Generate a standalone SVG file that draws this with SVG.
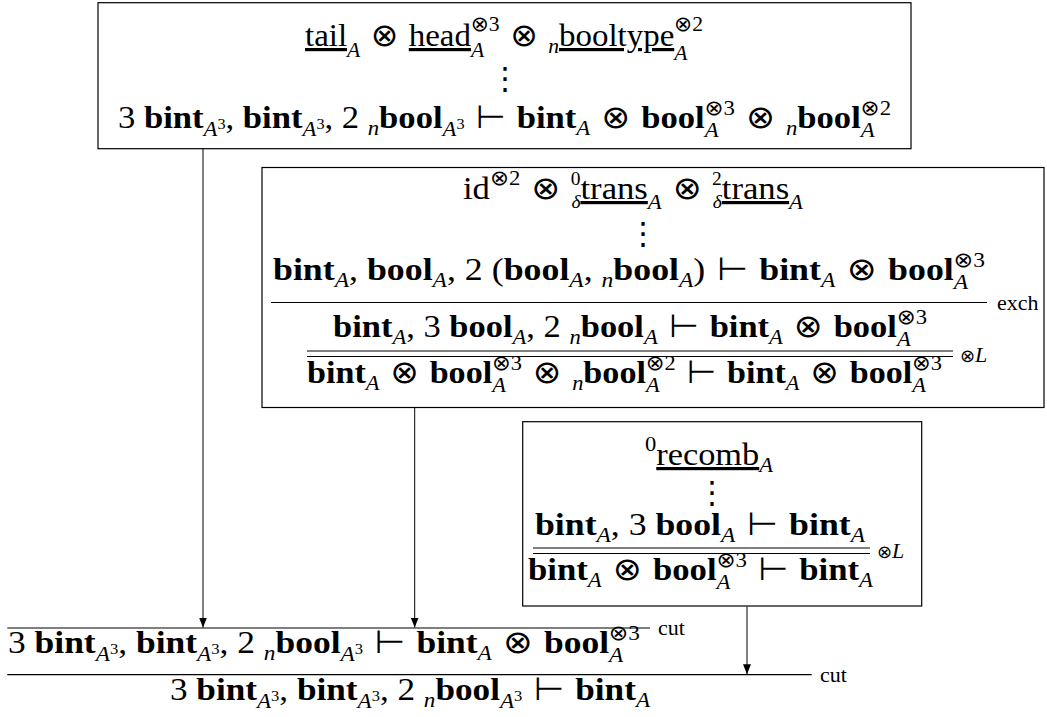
<svg xmlns="http://www.w3.org/2000/svg" width="1047" height="717" viewBox="0 0 1047 717">
<style>
.f{font-family:"Liberation Serif","DejaVu Serif",serif;font-size:32px;fill:#000}
.bf{font-weight:bold}
.it{font-style:italic}
.sc{font-size:21px}
.pr{font-size:18px}
.ss{font-size:15px}
.op{font-family:"DejaVu Sans",sans-serif;font-weight:normal;font-style:normal}
.ul{text-decoration:underline}
.lbl{font-family:"Liberation Serif",serif;font-size:22px;fill:#000}
.dots{font-family:"DejaVu Sans",sans-serif;font-size:31px;fill:#000;text-anchor:middle}
.box{fill:none;stroke:#000;stroke-width:1.2}
.rule{stroke:#000;stroke-width:1.2}
.conn{stroke:#000;stroke-width:1;fill:none}
</style>
<defs>
<marker id="ah" markerWidth="10" markerHeight="8" refX="10" refY="4" orient="auto" markerUnits="userSpaceOnUse"><path d="M0,0 L10,4 L0,8 z" fill="#000"/></marker>
</defs>
<rect width="1047" height="717" fill="#fff"/>

<g id="box-top">
<rect class="box" x="98" y="2.7" width="813" height="146"/>
<text class="f" x="305" y="46" textLength="398" lengthAdjust="spacingAndGlyphs"><tspan class="ul">tail</tspan><tspan class="it sc" y="57">A</tspan><tspan class="op" y="46"> ⊗ </tspan><tspan class="ul">head</tspan><tspan class="it sc" y="57">A</tspan><tspan class="op sc" dx="-13" y="31">⊗</tspan><tspan class="sc">3</tspan><tspan class="op" y="46"> ⊗ </tspan><tspan class="it sc" y="53">n</tspan><tspan class="ul" y="46">booltype</tspan><tspan class="it sc" y="60">A</tspan><tspan class="op sc" dx="-13" y="31">⊗</tspan><tspan class="sc">2</tspan></text>
<text class="dots" x="505" y="89">⋮</text>
<text class="f" x="118" y="128" textLength="773" lengthAdjust="spacingAndGlyphs">3 <tspan class="bf">bint</tspan><tspan class="it sc" y="136">A</tspan><tspan class="ss" y="129">3</tspan><tspan y="128">, </tspan><tspan class="bf">bint</tspan><tspan class="it sc" y="136">A</tspan><tspan class="ss" y="129">3</tspan><tspan y="128">, 2 </tspan><tspan class="it sc" y="135">n</tspan><tspan class="bf" y="128">bool</tspan><tspan class="it sc" y="136">A</tspan><tspan class="ss" y="129">3</tspan><tspan class="op" y="128"> ⊢ </tspan><tspan class="bf">bint</tspan><tspan class="it sc" y="135">A</tspan><tspan class="op" y="128"> ⊗ </tspan><tspan class="bf">bool</tspan><tspan class="it sc" y="137">A</tspan><tspan class="op sc" dx="-13" y="115">⊗</tspan><tspan class="sc">3</tspan><tspan class="op" y="128"> ⊗ </tspan><tspan class="it sc" y="135">n</tspan><tspan class="bf" y="128">bool</tspan><tspan class="it sc" y="137">A</tspan><tspan class="op sc" dx="-13" y="115">⊗</tspan><tspan class="sc">2</tspan></text>
</g>

<g id="box-mid">
<rect class="box" x="262" y="167.5" width="782" height="240"/>
<text class="f" x="463" y="199" textLength="340" lengthAdjust="spacingAndGlyphs">id<tspan class="op sc" y="185">⊗</tspan><tspan class="sc">2</tspan><tspan class="op" y="199"> ⊗ </tspan><tspan class="it pr" y="208">δ</tspan><tspan class="pr" dx="-9" y="185">0</tspan><tspan class="ul" y="199">trans</tspan><tspan class="it sc" y="209">A</tspan><tspan class="op" y="199"> ⊗ </tspan><tspan class="it pr" y="208">δ</tspan><tspan class="pr" dx="-9" y="185">2</tspan><tspan class="ul" y="199">trans</tspan><tspan class="it sc" y="209">A</tspan></text>
<text class="dots" x="643" y="244">⋮</text>
<text class="f" x="273" y="280" textLength="712" lengthAdjust="spacingAndGlyphs"><tspan class="bf">bint</tspan><tspan class="it sc" y="287">A</tspan><tspan y="280">, </tspan><tspan class="bf">bool</tspan><tspan class="it sc" y="287">A</tspan><tspan y="280">, 2 (</tspan><tspan class="bf">bool</tspan><tspan class="it sc" y="287">A</tspan><tspan y="280">, </tspan><tspan class="it sc" y="287">n</tspan><tspan class="bf" y="280">bool</tspan><tspan class="it sc" y="287">A</tspan><tspan y="280">)</tspan><tspan class="op"> ⊢ </tspan><tspan class="bf">bint</tspan><tspan class="it sc" y="287">A</tspan><tspan class="op" y="280"> ⊗ </tspan><tspan class="bf">bool</tspan><tspan class="it sc" y="289">A</tspan><tspan class="op sc" dx="-13" y="267">⊗</tspan><tspan class="sc">3</tspan></text>
<line class="rule" x1="271" y1="302.5" x2="987" y2="302.5"/>
<text class="lbl" x="997" y="310">exch</text>
<text class="f" x="333" y="337" textLength="594" lengthAdjust="spacingAndGlyphs"><tspan class="bf">bint</tspan><tspan class="it sc" y="344">A</tspan><tspan y="337">, 3 </tspan><tspan class="bf">bool</tspan><tspan class="it sc" y="344">A</tspan><tspan y="337">, 2 </tspan><tspan class="it sc" y="344">n</tspan><tspan class="bf" y="337">bool</tspan><tspan class="it sc" y="344">A</tspan><tspan class="op" y="337"> ⊢ </tspan><tspan class="bf">bint</tspan><tspan class="it sc" y="344">A</tspan><tspan class="op" y="337"> ⊗ </tspan><tspan class="bf">bool</tspan><tspan class="it sc" y="346">A</tspan><tspan class="op sc" dx="-13" y="324">⊗</tspan><tspan class="sc">3</tspan></text>
<line class="rule" x1="307" y1="351" x2="953" y2="351"/>
<line class="rule" x1="307" y1="356.5" x2="953" y2="356.5"/>
<text class="lbl" x="960" y="362"><tspan font-family="DejaVu Sans" font-size="18">⊗</tspan><tspan font-style="italic">L</tspan></text>
<text class="f" x="307" y="383" textLength="635" lengthAdjust="spacingAndGlyphs"><tspan class="bf">bint</tspan><tspan class="it sc" y="390">A</tspan><tspan class="op" y="383"> ⊗ </tspan><tspan class="bf">bool</tspan><tspan class="it sc" y="392">A</tspan><tspan class="op sc" dx="-13" y="370">⊗</tspan><tspan class="sc">3</tspan><tspan class="op" y="383"> ⊗ </tspan><tspan class="it sc" y="390">n</tspan><tspan class="bf" y="383">bool</tspan><tspan class="it sc" y="392">A</tspan><tspan class="op sc" dx="-13" y="370">⊗</tspan><tspan class="sc">2</tspan><tspan class="op" y="383"> ⊢ </tspan><tspan class="bf">bint</tspan><tspan class="it sc" y="390">A</tspan><tspan class="op" y="383"> ⊗ </tspan><tspan class="bf">bool</tspan><tspan class="it sc" y="392">A</tspan><tspan class="op sc" dx="-13" y="370">⊗</tspan><tspan class="sc">3</tspan></text>
</g>

<g id="box-small">
<rect class="box" x="522.7" y="421.7" width="399" height="184.3"/>
<text class="f" x="645" y="465" textLength="128" lengthAdjust="spacingAndGlyphs"><tspan class="sc" y="451">0</tspan><tspan class="ul" y="465">recomb</tspan><tspan class="it sc" y="472">A</tspan></text>
<text class="dots" x="712" y="503">⋮</text>
<text class="f" x="535" y="535" textLength="330" lengthAdjust="spacingAndGlyphs"><tspan class="bf">bint</tspan><tspan class="it sc" y="542">A</tspan><tspan y="535">, 3 </tspan><tspan class="bf">bool</tspan><tspan class="it sc" y="542">A</tspan><tspan class="op" y="535"> ⊢ </tspan><tspan class="bf">bint</tspan><tspan class="it sc" y="542">A</tspan></text>
<line class="rule" x1="533" y1="548" x2="870" y2="548"/>
<line class="rule" x1="533" y1="553.5" x2="870" y2="553.5"/>
<text class="lbl" x="877" y="558"><tspan font-family="DejaVu Sans" font-size="18">⊗</tspan><tspan font-style="italic">L</tspan></text>
<text class="f" x="528" y="580" textLength="345" lengthAdjust="spacingAndGlyphs"><tspan class="bf">bint</tspan><tspan class="it sc" y="587">A</tspan><tspan class="op" y="580"> ⊗ </tspan><tspan class="bf">bool</tspan><tspan class="it sc" y="589">A</tspan><tspan class="op sc" dx="-13" y="567">⊗</tspan><tspan class="sc">3</tspan><tspan class="op" y="580"> ⊢ </tspan><tspan class="bf">bint</tspan><tspan class="it sc" y="587">A</tspan></text>
</g>

<g id="conclusion">
<line class="rule" x1="7.3" y1="628" x2="650" y2="628"/>
<text class="lbl" x="658" y="635">cut</text>
<text class="f" x="8" y="653" textLength="632" lengthAdjust="spacingAndGlyphs">3 <tspan class="bf">bint</tspan><tspan class="it sc" y="661">A</tspan><tspan class="ss" y="654">3</tspan><tspan y="653">, </tspan><tspan class="bf">bint</tspan><tspan class="it sc" y="661">A</tspan><tspan class="ss" y="654">3</tspan><tspan y="653">, 2 </tspan><tspan class="it sc" y="660">n</tspan><tspan class="bf" y="653">bool</tspan><tspan class="it sc" y="661">A</tspan><tspan class="ss" y="654">3</tspan><tspan class="op" y="653"> ⊢ </tspan><tspan class="bf">bint</tspan><tspan class="it sc" y="660">A</tspan><tspan class="op" y="653"> ⊗ </tspan><tspan class="bf">bool</tspan><tspan class="it sc" y="662">A</tspan><tspan class="op sc" dx="-13" y="640">⊗</tspan><tspan class="sc">3</tspan></text>
<line class="rule" x1="7.3" y1="674.7" x2="811.7" y2="674.7"/>
<text class="lbl" x="820" y="682">cut</text>
<text class="f" x="170" y="700" textLength="480" lengthAdjust="spacingAndGlyphs">3 <tspan class="bf">bint</tspan><tspan class="it sc" y="708">A</tspan><tspan class="ss" y="701">3</tspan><tspan y="700">, </tspan><tspan class="bf">bint</tspan><tspan class="it sc" y="708">A</tspan><tspan class="ss" y="701">3</tspan><tspan y="700">, 2 </tspan><tspan class="it sc" y="707">n</tspan><tspan class="bf" y="700">bool</tspan><tspan class="it sc" y="708">A</tspan><tspan class="ss" y="701">3</tspan><tspan class="op" y="700"> ⊢ </tspan><tspan class="bf">bint</tspan><tspan class="it sc" y="707">A</tspan></text>
</g>

<g id="connectors">
<path class="conn" d="M203,149 L203,627.5" marker-end="url(#ah)"/>
<path class="conn" d="M414.7,408 L414.7,627.5" marker-end="url(#ah)"/>
<path class="conn" d="M747,606.5 L747,674.2" marker-end="url(#ah)"/>
</g>
</svg>
